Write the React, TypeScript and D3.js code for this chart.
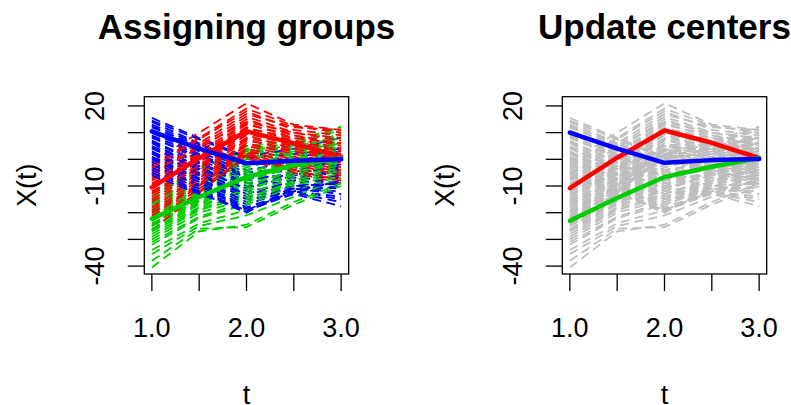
import React from "react";
import * as d3 from "d3";

// time grid the curves are read at
const tGrid = [1, 1.5, 2, 2.5, 3];
const xTicks = [1, 1.5, 2, 2.5, 3];
const xTickLabels = ["1.0", "", "2.0", "", "3.0"];
const yTicks = [20, 10, 0, -10, -20, -30, -40];
const yTickLabels = ["20", "", "", "-10", "", "", "-40"];

// curves assigned to each group, values at t = 1, 1.5, 2, 2.5, 3
const blueCurves = [
  [15.5, 8, 1, 4, 8], [14.5, 7.5, 0.5, 2, 4], [14, 6, -2, 1, 3], [13, 5.5, -1, 0, 1],
  [12.5, 4, -4, -1, 2], [12, 5, -1.5, -0.5, 0], [11, 3, -5, -3, -1], [10.5, 4.5, -1.5, -0.5, 0],
  [10, 2, -6, -4, -2], [9, 1.5, -6.5, -2, 2], [8.5, 0, -8, -5, -3], [8, 1, -7, -6, -5],
  [7, -1, -9, -7, -4], [6.5, -1.5, -10, -8, -6], [6, -3, -11, -6, -2], [5, -2.5, -12, -9, -7],
  [4.5, -4, -13, -10, -8], [4, -3.5, -11, -5, 1], [3, -5, -14, -11, -9], [2.5, -5.5, -15, -12, -10],
  [2, -6, -13, -8, -3], [1, -7, -16, -10, -11], [0.5, -7.5, -17, -11, -12], [0, -8.5, -18, -12, -14],
  [-1, -9.5, -18.5, -12, -15], [-2, -10, -19, -13, -17.6], [-3, -11, -19.8, -11, -13], [-4, -12, -19.5, -12.5, -16],
  [-5, -12.5, -20, -10, -9], [-6, -13, -19, -12, -8],
];
const redCurves = [
  [-1, 10, 21, 13, 11], [-2, 8, 19, 12.5, 10], [-3, 7.5, 18, 11, 9], [-4, 6, 17, 12, 11],
  [-5, 5, 16, 10, 8], [-5.5, 4, 15, 9, 6], [-6, 4.5, 14, 10, 7], [-7, 3, 13.5, 8, 4],
  [-7.5, 2, 13, 9, 5], [-8, 1.5, 12, 7, 3], [-9, 1, 11.5, 8, 6], [-9.5, 0.5, 11, 6, 2],
  [-10, 0, 10.5, 7, 4], [-10.5, -0.5, 10, 5, 1], [-11, -1, 9.5, 6, 3], [-12, -2, 9, 4, 0],
  [-12.5, -2.5, 8, 5, 2], [-13, -3, 7.5, 3, -1], [-14, -4, 7, 4, 1], [-15, -5, 6, 2, -2],
  [-16, -5.5, 5.5, 3, 0], [-17, -6.5, 5, 1, -3], [-18, -7, 4, 0, -4], [-19, -8, 3.5, -2, -6],
  [-20, -9, 3, -1, -5], [-21, -9.5, 2, -4, -8], [-22, -10, 2.5, -3, -7], [-23, -11, 1, -5, -9],
  [-25, -12, 0.5, -6, -10], [-26.5, -12.5, 1.5, -4, -8],
];
const greenCurves = [
  [-40.5, -27, -24.5, -16, -9], [-38, -26, -25.4, -17, -10], [-35.5, -25, -21, -14, -7], [-34, -24, -19, -12, -6],
  [-32, -22, -17, -10, -5], [-31, -21.5, -16, -9, -4], [-30, -20, -15, -8, -3], [-29, -19, -14, -9, -4],
  [-28, -18.5, -13, -7, -2], [-27, -18, -11, -6, -1], [-26.5, -17, -12, -5, 0], [-26, -16.5, -10, -4, 1],
  [-25, -16, -9, -5, -1], [-24.5, -15, -8, -3, 2], [-24, -15.5, -7.5, -2, 3], [-23, -14, -7, -3, 0],
  [-22.5, -13.5, -6, -1, 4], [-22, -13, -5, 0, 5], [-21.5, -12.5, -4, -2, 1], [-21, -12, -3, 1, 6],
  [-20, -11.5, -2, 2, 8], [-19.5, -11, -1, 0, 3], [-19, -10, 0, 3, 10], [-18, -9.5, 1, 2, 7],
  [-17, -9, 2, 5, 12.3], [-16.5, -8, 3, 4, 9], [-15.5, -7.5, 4, 6, 11], [-15, -4, 5, 7, 12],
  [-14, -3, 3.5, 5, 8], [-13, -5.5, 2, 3, 6],
];

// group centers (left: used for assigning, right: updated)
const assignRed = [-10.5, 0.5, 10.5, 6, 1];
const assignGreen = [-22.3, -14.1, -6.6, -2.2, 0.4];
const assignBlue = [10.5, 4, -1.5, -0.5, 0];
const updateRed = [-10.8, 0.6, 10.8, 6.2, 0.5];
const updateGreen = [-23, -14.5, -6.6, -2.8, 0.5];
const updateBlue = [10, 4, -1.3, -0.3, 0.1];

const RED = "#FF0000";
const GREEN = "#00CD00";
const BLUE = "#0000FF";
const GRAY = "#BEBEBE";
const FONT = "'Liberation Sans', Arial, sans-serif";

const boxTop = 96.7;
const boxBottom = 274;
const boxWidth = 204.4;

const allValues = [...blueCurves, ...redCurves, ...greenCurves].flat();
const yMin = d3.min(allValues) as number;
const yMax = d3.max(allValues) as number;
const yPad = (yMax - yMin) * 0.04;

// draw order: groups interleaved like matplot columns
const ordered: { vals: number[]; col: string }[] = [];
for (let i = 0; i < 30; i++) {
  ordered.push({ vals: greenCurves[29 - i], col: GREEN });
  ordered.push({ vals: blueCurves[i], col: BLUE });
  ordered.push({ vals: redCurves[(i * 7) % 30], col: RED });
}

type Center = { vals: number[]; col: string };

const Panel = ({ left, title, colored, centers }: { left: number; title: string; colored: boolean; centers: Center[] }) => {
  const x = d3.scaleLinear().domain([0.92, 3.08]).range([left, left + boxWidth]);
  const y = d3.scaleLinear().domain([yMin - yPad, yMax + yPad]).range([boxBottom, boxTop]);
  const line = d3.line<number>().x((_, i) => x(tGrid[i])).y(d => y(d));
  const cx = left + boxWidth / 2;

  return (
    <g>
      <text x={cx} y={39} textAnchor="middle" fontFamily={FONT} fontWeight="bold" fontSize={35}>{title}</text>

      {ordered.map((c, i) => (
        <path key={i} d={line(c.vals) || ""} fill="none" stroke={colored ? c.col : GRAY}
          strokeWidth={1.8} strokeDasharray="9 5.5" />
      ))}
      {centers.map((c, i) => (
        <path key={"c" + i} d={line(c.vals) || ""} fill="none" stroke={c.col} strokeWidth={4.5} strokeLinejoin="round" strokeLinecap="round" />
      ))}

      <rect x={left} y={boxTop} width={boxWidth} height={boxBottom - boxTop} fill="none" stroke="#000" strokeWidth={1.3} />

      {xTicks.map((t, i) => (
        <g key={"x" + i}>
          <line x1={x(t)} x2={x(t)} y1={boxBottom} y2={boxBottom + 17} stroke="#000" strokeWidth={1.3} />
          {xTickLabels[i] && (
            <text x={x(t)} y={337} textAnchor="middle" fontFamily={FONT} fontSize={27}>{xTickLabels[i]}</text>
          )}
        </g>
      ))}
      {yTicks.map((v, i) => (
        <g key={"y" + i}>
          <line x1={left - 16.5} x2={left} y1={y(v)} y2={y(v)} stroke="#000" strokeWidth={1.3} />
          {yTickLabels[i] && (
            <text transform={`translate(${left - 40},${y(v)}) rotate(-90)`} textAnchor="middle" fontFamily={FONT} fontSize={27}>{yTickLabels[i]}</text>
          )}
        </g>
      ))}

      <text x={cx} y={404} textAnchor="middle" fontFamily={FONT} fontSize={27}>t</text>
      <text transform={`translate(${left - 108},${(boxTop + boxBottom) / 2}) rotate(-90)`} textAnchor="middle" fontFamily={FONT} fontSize={27}>X(t)</text>
    </g>
  );
};

export default function App() {
  return (
    <svg width={791} height={405} style={{ position: "absolute", left: 0, top: 0, background: "#fff" }}>
      <Panel left={144.3} title="Assigning groups" colored={true}
        centers={[{ vals: assignRed, col: RED }, { vals: assignGreen, col: GREEN }, { vals: assignBlue, col: BLUE }]} />
      <Panel left={562.3} title="Update centers" colored={false}
        centers={[{ vals: updateRed, col: RED }, { vals: updateGreen, col: GREEN }, { vals: updateBlue, col: BLUE }]} />
    </svg>
  );
}
